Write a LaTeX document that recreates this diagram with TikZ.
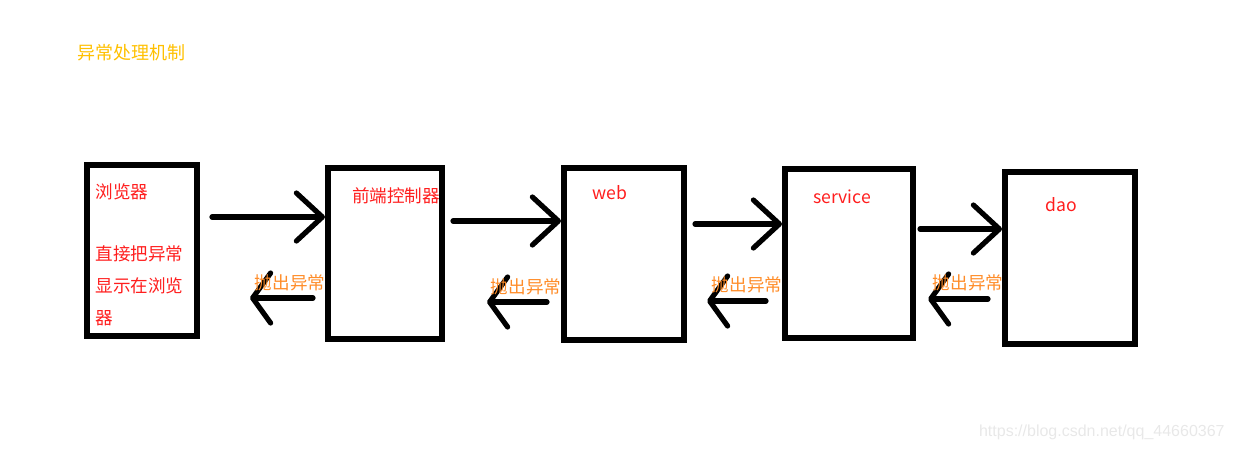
\documentclass[tikz,border=0pt]{standalone}
\usepackage{fontspec}
\setmainfont{Noto Sans CJK SC}
\newfontfamily\urlfont{Liberation Sans}
\usetikzlibrary{arrows.meta}
\definecolor{boxred}{RGB}{255,30,30}
\definecolor{throworange}{RGB}{255,140,40}
\definecolor{titleyellow}{RGB}{255,192,0}
\definecolor{markgray}{RGB}{232,232,232}
\tikzset{
    box/.style={draw, line width=3pt, inner sep=0pt},
    boxtext/.style={text=boxred, font=\fontsize{8.8}{16}\selectfont, inner sep=0pt},
    throwtext/.style={text=throworange, font=\fontsize{8.8}{10}\selectfont, inner sep=0pt},
    fwd/.style={line width=2.6pt, line cap=round, -{Straight Barb[length=13pt,width=24pt,round]}},
    back/.style={line width=2.6pt, line cap=round, -{Straight Barb[length=9pt,width=25pt,round]}}
}
\begin{document}
\begin{tikzpicture}[x=0.5pt, y=-0.5pt]
    \useasboundingbox (0,0) rectangle (1235,450);

    % Title
    \node[text=titleyellow, font=\fontsize{9}{10}\selectfont, inner sep=0pt] (title) at (131,53) {异常处理机制};

    % Boxes
    \node[box, minimum width=55pt, minimum height=85.5pt] (brow) at (142,250.5) {};
    \node[box, minimum width=57pt, minimum height=85.5pt] (front) at (385,253.5) {};
    \node[box, minimum width=60pt, minimum height=86pt] (web) at (624,254) {};
    \node[box, minimum width=64pt, minimum height=84.5pt] (serv) at (849,253.5) {};
    \node[box, minimum width=65pt, minimum height=86pt] (dao) at (1070,258) {};

    % Box texts
    \node[boxtext, anchor=west] (browtext) at (95,192) {浏览器};
    \node[boxtext, anchor=north west, align=left] (browinfo) at (95,245) {直接把异常\\显示在浏览\\器};
    \node[boxtext] (fronttext) at (396,196) {前端控制器};
    \node[boxtext] (webtext) at (610,193) {web};
    \node[boxtext] (servtext) at (842,197) {service};
    \node[boxtext] (daotext) at (1061,205) {dao};

    % Levels of the arrows
    \coordinate (f1) at (0,217);
    \coordinate (f2) at (0,221);
    \coordinate (f3) at (0,224);
    \coordinate (f4) at (0,229);
    \coordinate (r1) at (250,298);
    \coordinate (r2) at (487,302);
    \coordinate (r3) at (707,301);
    \coordinate (r4) at (928,299);

    % Requests
    \draw[fwd, shorten <=6pt] (brow.east |- f1) -- (front.west |- f1);
    \draw[fwd, shorten <=4pt] (front.east |- f2) -- (web.west |- f2);
    \draw[fwd, shorten <=4pt] (web.east |- f3) -- (serv.west |- f3);
    \draw[fwd, shorten <=2pt] (serv.east |- f4) -- (dao.west |- f4);

    % Exceptions thrown back
    \draw[back, shorten <=6pt] (front.west |- r1) -- (r1);
    \draw[back, shorten <=7pt] (web.west |- r2) -- (r2);
    \draw[back, shorten <=8pt] (serv.west |- r3) -- (r3);
    \draw[back, shorten <=7pt] (dao.west |- r4) -- (r4);

    \node[throwtext] (throw1) at (290,283) {抛出异常};
    \node[throwtext] (throw2) at (526,287) {抛出异常};
    \node[throwtext] (throw3) at (747,285) {抛出异常};
    \node[throwtext] (throw4) at (968,283) {抛出异常};

    % Watermark
    \node[text=markgray, font=\urlfont\fontsize{8}{9}\selectfont, inner sep=0pt, anchor=east] (mark) at (1225,432) {https://blog.csdn.net/qq\_44660367};
\end{tikzpicture}
\end{document}
